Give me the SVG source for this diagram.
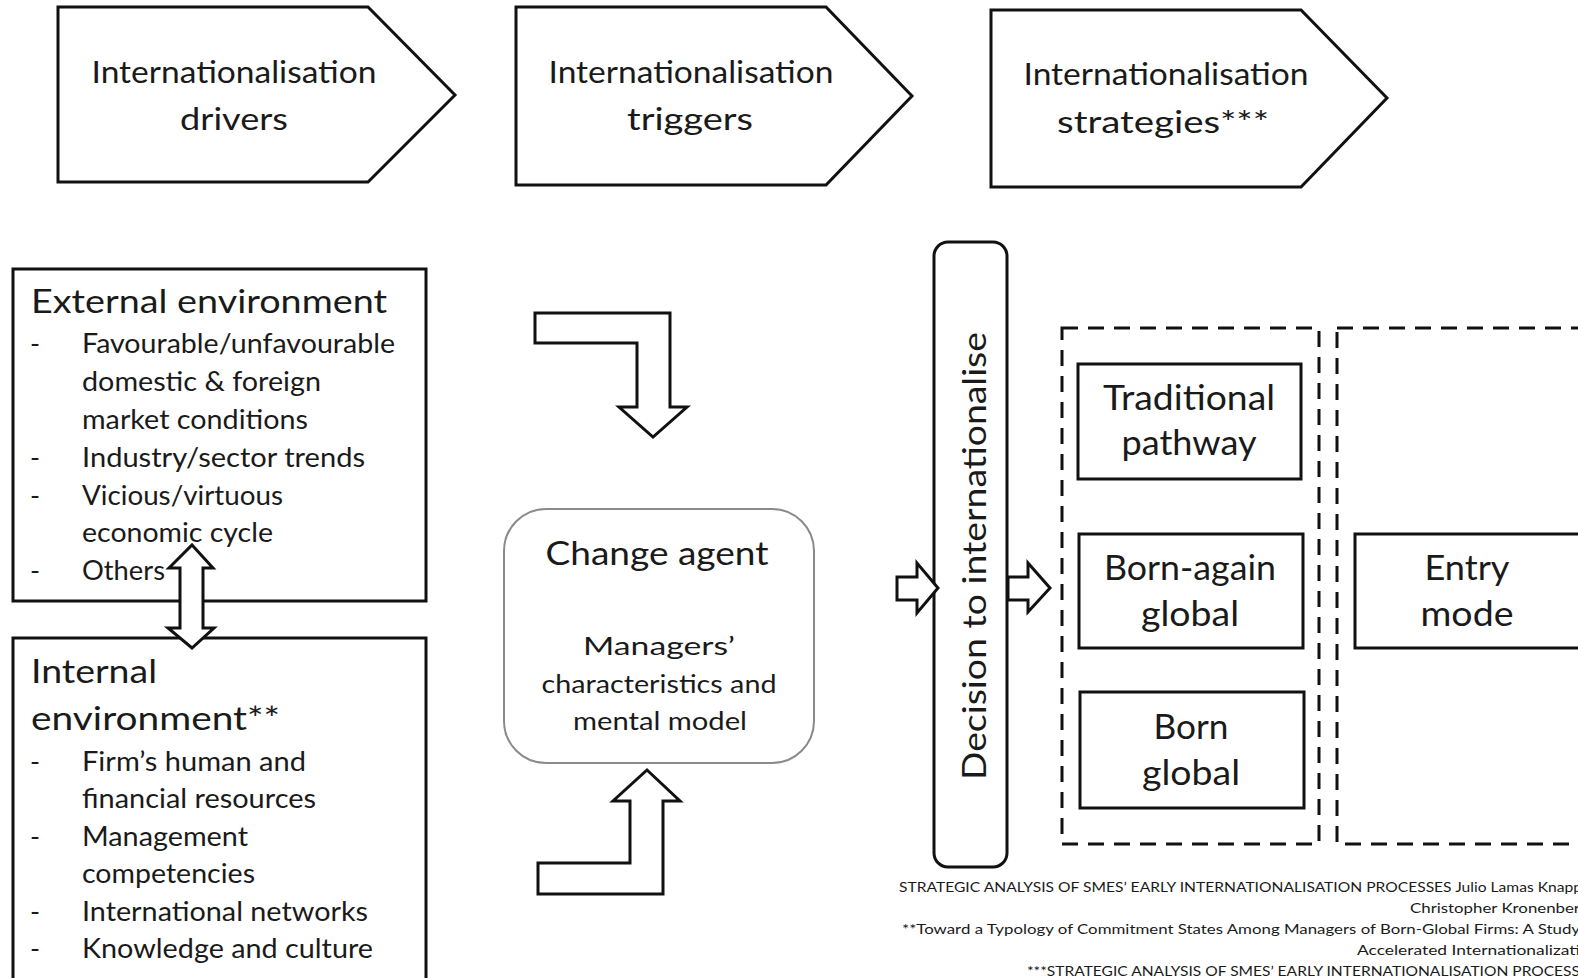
<svg xmlns="http://www.w3.org/2000/svg" width="1578" height="978" viewBox="0 0 1578 978">
<style>
  text { font-family: Lato, "Open Sans", "Liberation Sans", sans-serif; fill: #1a1a1a; }
  .box { fill: #fff; stroke: #111; stroke-width: 3; }
  .dash { fill: none; stroke: #111; stroke-width: 3; stroke-dasharray: 16 10; }
  .arr { fill: #fff; stroke: #111; stroke-width: 3; stroke-linejoin: miter; }
  .hdr { font-size: 30px; text-anchor: middle; }
  .ttl { font-size: 33px; }
  .itm { font-size: 27px; }
  .big { font-size: 34px; text-anchor: middle; }
  .mid { font-size: 25px; text-anchor: middle; }
  .ft { font-size: 14px; }
</style>
<rect width="1578" height="978" fill="#fff"/>

<g id="drivers">
  <polygon class="box" points="58,7 368,7 455,95 368,182 58,182"/>
  <text class="hdr" x="234" y="83" textLength="285" lengthAdjust="spacingAndGlyphs">Internationalisation</text>
  <text class="hdr" x="234" y="130" textLength="108" lengthAdjust="spacingAndGlyphs">drivers</text>
</g>
<g id="triggers">
  <polygon class="box" points="516,7 826,7 912,96 826,185 516,185"/>
  <text class="hdr" x="691" y="83" textLength="285" lengthAdjust="spacingAndGlyphs">Internationalisation</text>
  <text class="hdr" x="690" y="130" textLength="126" lengthAdjust="spacingAndGlyphs">triggers</text>
</g>
<g id="strategies">
  <polygon class="box" points="991,10 1301,10 1387,98 1301,187 991,187"/>
  <text class="hdr" x="1166" y="85" textLength="285" lengthAdjust="spacingAndGlyphs">Internationalisation</text>
  <text class="hdr" x="1163" y="133" textLength="212" lengthAdjust="spacingAndGlyphs">strategies***</text>
</g>

<g id="external">
  <rect class="box" x="13" y="269" width="413" height="332"/>
  <text class="ttl" x="31" y="313" textLength="356" lengthAdjust="spacingAndGlyphs">External environment</text>
  <g class="itm">
    <text x="30" y="353">-</text><text x="82" y="353" textLength="313" lengthAdjust="spacingAndGlyphs">Favourable/unfavourable</text>
    <text x="82" y="391" textLength="239" lengthAdjust="spacingAndGlyphs">domestic &amp; foreign</text>
    <text x="82" y="429" textLength="226" lengthAdjust="spacingAndGlyphs">market conditions</text>
    <text x="30" y="467">-</text><text x="82" y="467" textLength="283" lengthAdjust="spacingAndGlyphs">Industry/sector trends</text>
    <text x="30" y="505">-</text><text x="82" y="505" textLength="201" lengthAdjust="spacingAndGlyphs">Vicious/virtuous</text>
    <text x="82" y="542" textLength="191" lengthAdjust="spacingAndGlyphs">economic cycle</text>
    <text x="30" y="580">-</text><text x="82" y="580" textLength="83" lengthAdjust="spacingAndGlyphs">Others</text>
  </g>
</g>

<g id="internal">
  <rect class="box" x="13" y="638" width="413" height="350"/>
  <text class="ttl" x="31" y="683" textLength="126" lengthAdjust="spacingAndGlyphs">Internal</text>
  <text class="ttl" x="31" y="730" textLength="249" lengthAdjust="spacingAndGlyphs">environment**</text>
  <g class="itm">
    <text x="30" y="771">-</text><text x="82" y="771" textLength="224" lengthAdjust="spacingAndGlyphs">Firm’s human and</text>
    <text x="82" y="808" textLength="234" lengthAdjust="spacingAndGlyphs">financial resources</text>
    <text x="30" y="846">-</text><text x="82" y="846" textLength="166" lengthAdjust="spacingAndGlyphs">Management</text>
    <text x="82" y="883" textLength="173" lengthAdjust="spacingAndGlyphs">competencies</text>
    <text x="30" y="921">-</text><text x="82" y="921" textLength="286" lengthAdjust="spacingAndGlyphs">International networks</text>
    <text x="30" y="958">-</text><text x="82" y="958" textLength="291" lengthAdjust="spacingAndGlyphs">Knowledge and culture</text>
  </g>
</g>

<g id="change-agent">
  <rect x="504" y="509" width="310" height="254" rx="42" ry="42" fill="#fff" stroke="#8a8a8a" stroke-width="2"/>
  <text class="big" x="657" y="565" textLength="223" lengthAdjust="spacingAndGlyphs" style="font-size:33px">Change agent</text>
  <text class="mid" x="659" y="655" textLength="152" lengthAdjust="spacingAndGlyphs">Managers’</text>
  <text class="mid" x="659" y="693" textLength="235" lengthAdjust="spacingAndGlyphs">characteristics and</text>
  <text class="mid" x="660" y="730" textLength="174" lengthAdjust="spacingAndGlyphs">mental model</text>
</g>

<g id="decision">
  <rect class="box" x="934" y="242" width="73" height="625" rx="14" ry="14"/>
  <text transform="translate(986,556) rotate(-90)" x="0" y="0" text-anchor="middle" style="font-size:32px" textLength="448" lengthAdjust="spacingAndGlyphs">Decision to internationalise</text>
</g>

<g id="strategy-group">
  <rect class="dash" x="1062" y="328" width="257" height="516"/>
</g>
<g id="traditional">
  <rect class="box" x="1078" y="364" width="223" height="115"/>
  <text class="big" x="1189" y="410" textLength="172" lengthAdjust="spacingAndGlyphs">Traditional</text>
  <text class="big" x="1189" y="455" textLength="135" lengthAdjust="spacingAndGlyphs">pathway</text>
</g>
<g id="born-again">
  <rect class="box" x="1079" y="534" width="224" height="114"/>
  <text class="big" x="1190" y="580" textLength="172" lengthAdjust="spacingAndGlyphs">Born-again</text>
  <text class="big" x="1190" y="626" textLength="98" lengthAdjust="spacingAndGlyphs">global</text>
</g>
<g id="born-global">
  <rect class="box" x="1080" y="692" width="224" height="116"/>
  <text class="big" x="1191" y="739" textLength="75" lengthAdjust="spacingAndGlyphs">Born</text>
  <text class="big" x="1191" y="785" textLength="98" lengthAdjust="spacingAndGlyphs">global</text>
</g>

<g id="entry-group">
  <rect class="dash" x="1337" y="328" width="300" height="516"/>
</g>
<g id="entry-mode">
  <rect class="box" x="1355" y="534" width="260" height="114"/>
  <text class="big" x="1467" y="580" textLength="85" lengthAdjust="spacingAndGlyphs">Entry</text>
  <text class="big" x="1467" y="626" textLength="93" lengthAdjust="spacingAndGlyphs">mode</text>
</g>

<g id="connectors">
  <polygon class="arr" points="535,313 670,313 670,407 687,407 653,437 619,407 637,407 637,343 535,343"/>
  <polygon class="arr" points="647,770 680,801 663,801 663,894 538,894 538,863 630,863 630,801 613,801"/>
  <polygon class="arr" points="192,545 213,568 203,568 203,628 214,628 192,648 168,628 180,628 180,568 169,568"/>
  <polygon class="arr" points="897,577 917,577 917,563 938,588 917,613 917,600 897,600"/>
  <polygon class="arr" points="1008,577 1028,577 1028,563 1050,588 1028,612 1028,600 1008,600"/>
</g>

<g id="footnotes" class="ft">
  <text x="899" y="892" textLength="683" lengthAdjust="spacingAndGlyphs">STRATEGIC ANALYSIS OF SMES’ EARLY INTERNATIONALISATION PROCESSES Julio Lamas Knapp</text>
  <text x="1410" y="913" textLength="170" lengthAdjust="spacingAndGlyphs">Christopher Kronenber</text>
  <text x="902" y="934" textLength="678" lengthAdjust="spacingAndGlyphs">**Toward a Typology of Commitment States Among Managers of Born-Global Firms: A Study</text>
  <text x="1357" y="955" textLength="223" lengthAdjust="spacingAndGlyphs">Accelerated Internationalizati</text>
  <text x="1027" y="976" textLength="553" lengthAdjust="spacingAndGlyphs">***STRATEGIC ANALYSIS OF SMES’ EARLY INTERNATIONALISATION PROCESS</text>
</g>
</svg>
